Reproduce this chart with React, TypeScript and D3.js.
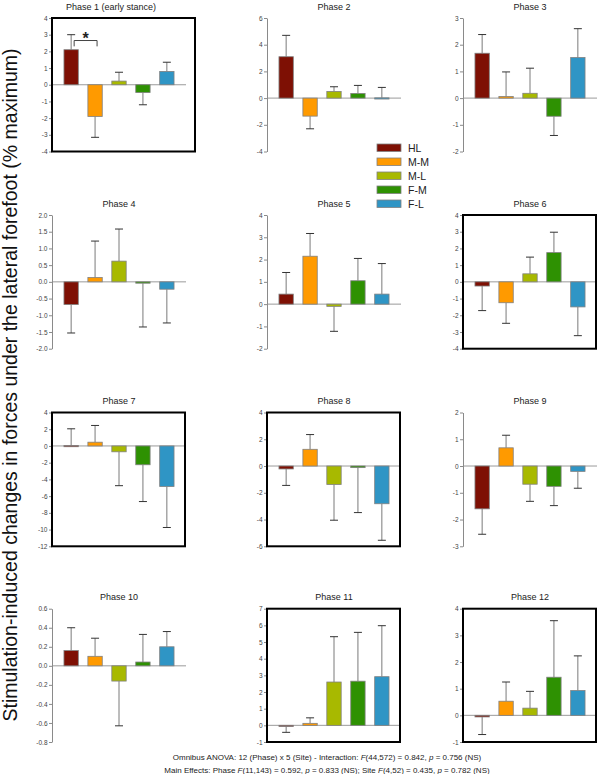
import React, { useEffect, useRef } from "react";
import * as d3 from "d3";

// sites (legend order)
const sites = ["HL", "M-M", "M-L", "F-M", "F-L"];
const siteColors = ["#7e1004", "#ff9a00", "#a8b900", "#2e9102", "#2f95c5"];

const phaseTitles = [
  "Phase 1 (early stance)", "Phase 2", "Phase 3", "Phase 4", "Phase 5", "Phase 6",
  "Phase 7", "Phase 8", "Phase 9", "Phase 10", "Phase 11", "Phase 12",
];

// mean change (% maximum) per site, one array per phase
const meanP1 = [2.1, -1.9, 0.22, -0.47, 0.8];
const meanP2 = [3.1, -1.35, 0.5, 0.35, 0.02];
const meanP3 = [1.68, 0.06, 0.18, -0.68, 1.52];
const meanP4 = [-0.68, 0.13, 0.62, -0.04, -0.22];
const meanP5 = [0.45, 2.15, -0.1, 1.05, 0.45];
const meanP6 = [-0.25, -1.25, 0.48, 1.75, -1.5];
const meanP7 = [0.05, 0.45, -0.7, -2.25, -4.85];
const meanP8 = [-0.22, 1.25, -1.38, -0.12, -2.82];
const meanP9 = [-1.6, 0.68, -0.68, -0.76, -0.2];
const meanP10 = [0.16, 0.1, -0.16, 0.04, 0.2];
const meanP11 = [-0.05, 0.12, 2.6, 2.65, 2.92];
const meanP12 = [-0.06, 0.53, 0.27, 1.43, 0.93];

// error bar length per site
const errP1 = [0.9, 1.25, 0.53, 0.73, 0.55];
const errP2 = [1.6, 0.95, 0.35, 0.6, 0.78];
const errP3 = [0.7, 0.92, 0.94, 0.72, 1.08];
const errP4 = [0.85, 1.09, 0.96, 1.31, 1.01];
const errP5 = [0.97, 1.02, 1.12, 1.0, 1.37];
const errP6 = [1.47, 1.23, 1.0, 1.22, 1.72];
const errP7 = [2.0, 2.0, 4.05, 4.4, 4.9];
const errP8 = [1.23, 1.1, 2.67, 3.36, 2.73];
const errP9 = [0.95, 0.47, 0.64, 0.72, 0.63];
const errP10 = [0.24, 0.19, 0.47, 0.29, 0.16];
const errP11 = [0.37, 0.33, 2.72, 2.93, 3.06];
const errP12 = [0.66, 0.72, 0.63, 2.12, 1.3];

// y axis ranges and tick steps
const yDomains = [[-4, 4], [-4, 6], [-2, 3], [-2, 2], [-2, 4], [-4, 4], [-12, 4], [-6, 4], [-3, 2], [-0.8, 0.6], [-1, 7], [-1, 4]];
const tickSteps = [1, 2, 1, 0.5, 1, 1, 2, 2, 1, 0.2, 1, 1];
const framed = [true, false, false, false, false, true, true, true, false, false, true, true];

const means = [meanP1, meanP2, meanP3, meanP4, meanP5, meanP6, meanP7, meanP8, meanP9, meanP10, meanP11, meanP12];
const errs = [errP1, errP2, errP3, errP4, errP5, errP6, errP7, errP8, errP9, errP10, errP11, errP12];

const FONT = "'Liberation Sans', Arial, sans-serif";

const App = () => {
  const svgRef = useRef(null);

  useEffect(() => {
    const width = 600;
    const height = 774;
    const svg = d3.select(svgRef.current);
    svg.selectAll("*").remove();
    svg.attr("width", width).attr("height", height).style("font-family", FONT);

    // grid layout
    const colX = [52, 267, 463];
    const rowTop = [18, 215, 412.5, 608.7];
    const rowBottom = [151.5, 348.7, 546.3, 742];
    const plotW = 134;

    phaseTitles.forEach((title, i) => {
      const col = i % 3;
      const row = Math.floor(i / 3);
      const x0 = colX[col];
      const top = rowTop[row];
      const bottom = rowBottom[row];

      const y = d3.scaleLinear().domain(yDomains[i]).range([bottom, top]);
      const x = d3.scaleBand()
        .domain(sites)
        .range([x0, x0 + plotW])
        .paddingInner(0.4)
        .paddingOuter(0.5);

      const g = svg.append("g");

      // title
      g.append("text")
        .attr("x", i === 0 ? 111 : x0 + 67)
        .attr("y", top - 8.5)
        .attr("text-anchor", "middle")
        .attr("font-size", 9)
        .attr("fill", "#222")
        .text(title);

      // zero line
      g.append("line")
        .attr("x1", x0).attr("x2", x0 + plotW)
        .attr("y1", y(0)).attr("y2", y(0))
        .attr("stroke", "#9a9a9a")
        .attr("stroke-width", 1);

      const rows = sites.map((s, k) => ({ site: s, v: means[i][k], e: errs[i][k], color: siteColors[k] }));

      // error bars
      rows.forEach(d => {
        const cx = x(d.site) + x.bandwidth() / 2;
        const tip = d.v >= 0 ? d.v + d.e : d.v - d.e;
        g.append("line")
          .attr("x1", cx).attr("x2", cx)
          .attr("y1", y(d.v)).attr("y2", y(tip))
          .attr("stroke", "#7a7a7a").attr("stroke-width", 1);
        g.append("line")
          .attr("x1", cx - 4).attr("x2", cx + 4)
          .attr("y1", y(tip)).attr("y2", y(tip))
          .attr("stroke", "#333").attr("stroke-width", 1);
      });

      // bars
      g.selectAll(".bar")
        .data(rows)
        .enter().append("rect")
        .attr("x", d => x(d.site))
        .attr("y", d => Math.min(y(d.v), y(0)))
        .attr("width", x.bandwidth())
        .attr("height", d => Math.max(Math.abs(y(d.v) - y(0)), 1.2))
        .attr("fill", d => d.color)
        .attr("stroke", "#808080")
        .attr("stroke-width", 0.8);

      // axis
      const [lo, hi] = yDomains[i];
      const step = tickSteps[i];
      const n = Math.round((hi - lo) / step);
      const ticks = d3.range(n + 1).map(k => +(lo + k * step).toFixed(2));
      const fmt = step < 1 ? d3.format(".1f") : d3.format("d");
      const axis = g.append("g")
        .attr("transform", `translate(${x0},0)`)
        .call(d3.axisLeft(y).tickValues(ticks).tickSize(3).tickSizeOuter(0).tickPadding(1.5)
          .tickFormat(d => fmt(d).replace("\u2212", "-")));
      axis.select(".domain").attr("stroke", "#8a8a8a");
      axis.selectAll(".tick line").attr("stroke", "#8a8a8a");
      axis.selectAll("text").attr("font-size", 6.5).attr("fill", "#444").attr("font-family", FONT);

      if (framed[i]) {
        g.append("rect")
          .attr("x", x0).attr("y", top)
          .attr("width", i === 0 ? 143 : 133)
          .attr("height", bottom - top)
          .attr("fill", "none")
          .attr("stroke", "#000")
          .attr("stroke-width", 2);
      }

      // significance marker HL vs M-M in phase 1
      if (i === 0) {
        const xa = x("HL") + x.bandwidth() / 2 + 3;
        const xb = x("M-M") + x.bandwidth() / 2 + 2;
        const yTop = y(2.65);
        const yEnd = y(2.3);
        g.append("path")
          .attr("d", `M${xa},${yEnd}V${yTop}H${xb}V${yEnd}`)
          .attr("fill", "none").attr("stroke", "#444").attr("stroke-width", 1);
        g.append("text")
          .attr("x", (xa + xb) / 2)
          .attr("y", yTop + 3)
          .attr("text-anchor", "middle")
          .attr("font-size", 16)
          .attr("font-weight", "bold")
          .attr("fill", "#222")
          .text("*");
      }
    });

    // legend
    const legend = svg.append("g").attr("transform", "translate(377,144)");
    sites.forEach((s, k) => {
      legend.append("rect")
        .attr("x", 0).attr("y", k * 14)
        .attr("width", 24).attr("height", 7.5)
        .attr("fill", siteColors[k])
        .attr("stroke", "#808080").attr("stroke-width", 0.8);
      legend.append("text")
        .attr("x", 31).attr("y", k * 14 + 7.5)
        .attr("font-size", 10.5)
        .attr("fill", "#222")
        .text(s);
    });

    // y axis label
    svg.append("text")
      .attr("transform", "translate(16.5,385) rotate(-90)")
      .attr("text-anchor", "middle")
      .attr("font-size", 19.5)
      .attr("fill", "#111")
      .text("Stimulation-induced changes in forces under the lateral forefoot (% maximum)");

    // footer with stats
    const foot = [
      [["Omnibus ANOVA: 12 (Phase) x 5 (Site) - Interaction: ", false], ["F", true], ["(44,572) = 0.842, ", false], ["p", true], [" = 0.756 (NS)", false]],
      [["Main Effects: Phase ", false], ["F", true], ["(11,143) = 0.592, ", false], ["p", true], [" = 0.833 (NS); Site ", false], ["F", true], ["(4,52) = 0.435, ", false], ["p", true], [" = 0.782 (NS)", false]],
    ];
    foot.forEach((parts, li) => {
      const t = svg.append("text")
        .attr("x", 327).attr("y", 760 + li * 12.5)
        .attr("text-anchor", "middle")
        .attr("font-size", 8)
        .attr("fill", "#222");
      parts.forEach(([txt, it]) => {
        t.append("tspan").attr("font-style", it ? "italic" : "normal").text(txt);
      });
    });
  }, []);

  return (
    <svg ref={svgRef} style={{ position: "absolute", left: 0, top: 0 }}></svg>
  );
};

export default App;
